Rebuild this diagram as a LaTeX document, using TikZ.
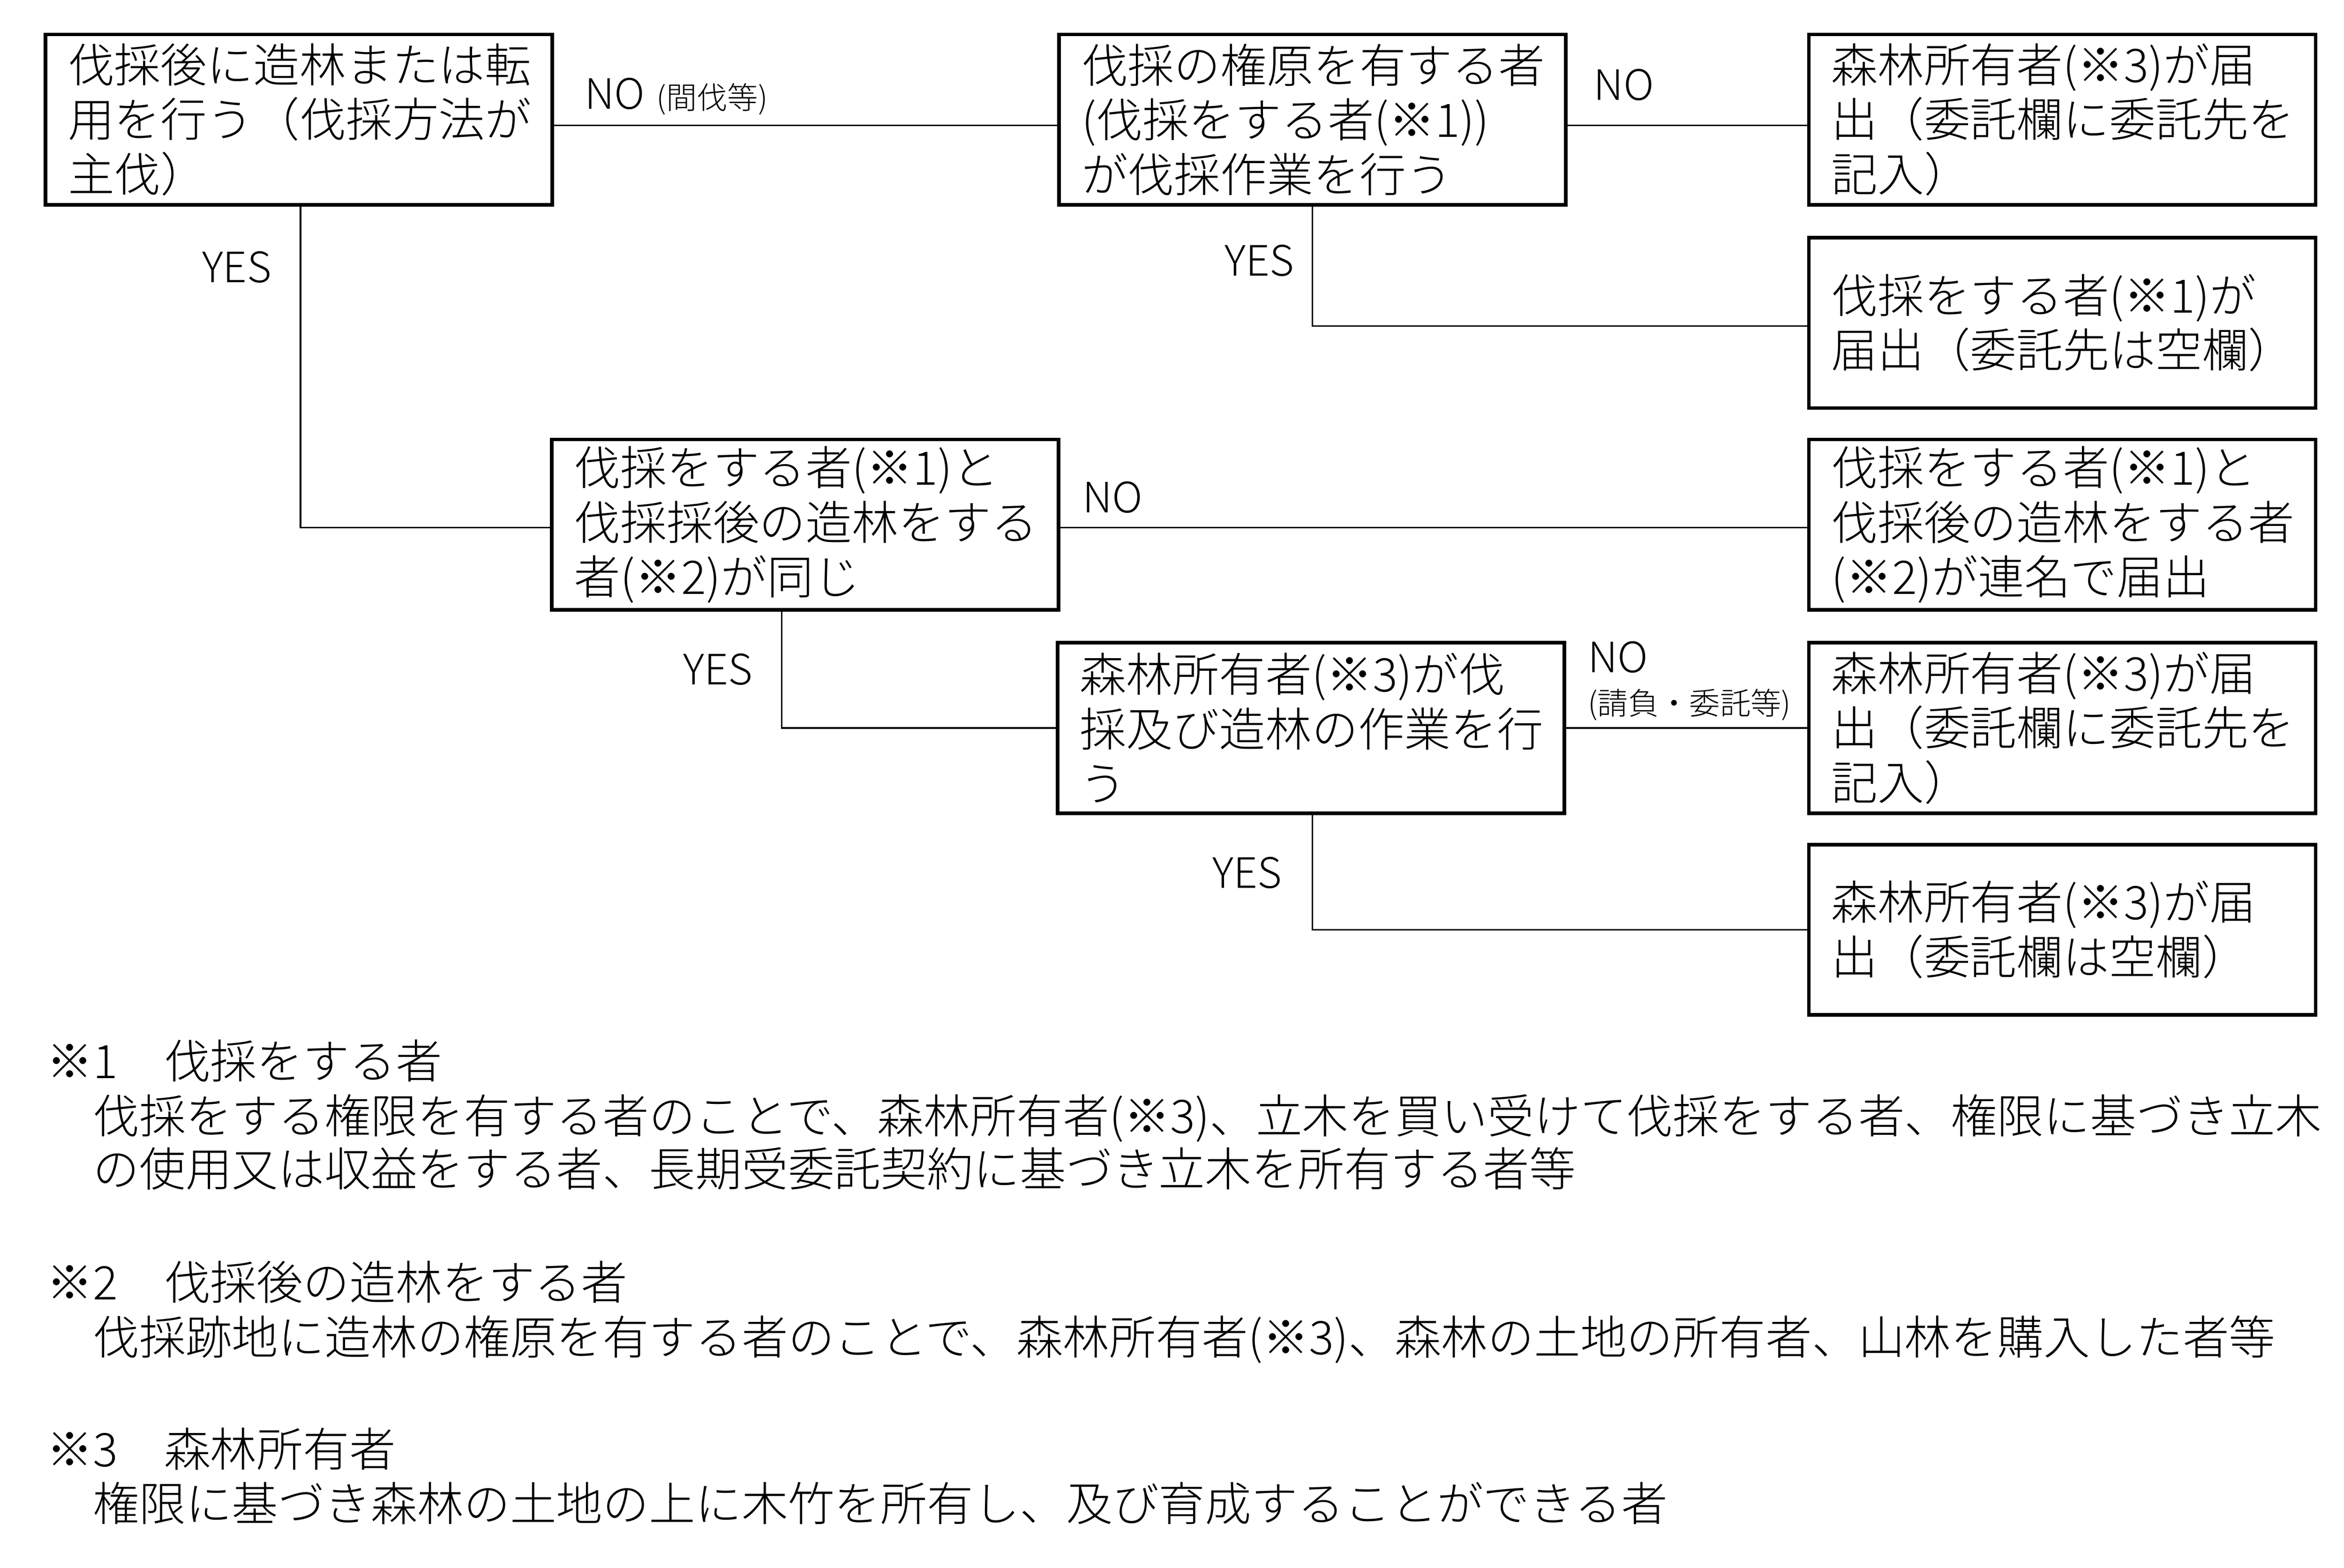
\documentclass[tikz,border=0pt]{standalone}
\usepackage{fontspec}
\setmainfont{Noto Sans CJK JP}[UprightFont=* Light]
\usetikzlibrary{calc}
\tikzset{
  box/.style={draw, line width=2.4pt, minimum width=339pt, minimum height=114pt,
    inner xsep=15pt, inner ysep=0pt, text width=309pt, align=left,
    font=\fontsize{31pt}{36.5pt}\selectfont},
  conn/.style={line width=1pt},
  lbl/.style={anchor=base west, inner sep=0pt, font=\fontsize{28pt}{32pt}\selectfont},
  small/.style={anchor=base west, inner sep=0pt, font=\fontsize{20.5pt}{24pt}\selectfont},
  note/.style={anchor=base west, inner sep=0pt, font=\fontsize{31pt}{36pt}\selectfont}
}
\begin{document}
\begin{tikzpicture}[x=1pt,y=-1pt]
\useasboundingbox (0,0) rectangle (1568,1048.9);
% boxes
\node[box] (A) at (200,80) {伐採後に造林または転\\用を行う（伐採方法が\\主伐）};
\node[box] (B) at (878,80) {伐採の権原を有する者\\(伐採をする者(※1))\\が伐採作業を行う};
\node[box] (C) at (1379.5,80) {森林所有者(※3)が届\\出（委託欄に委託先を\\記入）};
\node[box] (D) at (1379.5,216) {伐採をする者(※1)が\\届出（委託先は空欄）};
\node[box] (E) at (538.5,351) {伐採をする者(※1)と\\伐採採後の造林をする\\者(※2)が同じ};
\node[box] (F) at (1379.5,351) {伐採をする者(※1)と\\伐採後の造林をする者\\(※2)が連名で届出};
\node[box] (G) at (877,487) {森林所有者(※3)が伐\\採及び造林の作業を行\\う};
\node[box] (H) at (1379.5,487) {森林所有者(※3)が届\\出（委託欄に委託先を\\記入）};
\node[box] (I) at (1379.5,622) {森林所有者(※3)が届\\出（委託欄は空欄）};
% connectors
\draw[conn] ($(A.east)+(0,4)$) -- ($(B.west)+(0,4)$);
\draw[conn] ($(B.east)+(0,4)$) -- ($(C.west)+(0,4)$);
\draw[conn] (B.south) |- ($(D.west)+(0,2)$);
\draw[conn] ($(A.south)+(1,0)$) |- ($(E.west)+(0,2)$);
\draw[conn] ($(E.east)+(0,2)$) -- ($(F.west)+(0,2)$);
\draw[conn] ($(E.south)+(-15.5,0)$) |- (G.west);
\draw[conn] (G.east) -- (H.west);
\draw[conn] ($(G.south)+(1,0)$) |- (I.west);
% labels
\node[lbl] (l1) at (391,73) {NO};
\node[small] (l1s) at (439,73) {(間伐等)};
\node[lbl] (l2) at (1066,67) {NO};
\node[lbl] (l3) at (819,184.5) {YES};
\node[lbl] (l4) at (135,189) {YES};
\node[lbl] (l5) at (724,343) {NO};
\node[lbl] (l6) at (457,458) {YES};
\node[lbl] (l7) at (1062,450) {NO};
\node[small] (l7s) at (1062,478) {(請負・委託等)};
\node[lbl] (l8) at (811,594) {YES};
% notes
\node[note] (n1) at (31,721.5) {※1　伐採をする者};
\node[note] (n1a) at (62,758) {伐採をする権限を有する者のことで、森林所有者(※3)、立木を買い受けて伐採をする者、権限に基づき立木};
\node[note] (n1b) at (62,793.5) {の使用又は収益をする者、長期受委託契約に基づき立木を所有する者等};
\node[note] (n2) at (31,869.5) {※2　伐採後の造林をする者};
\node[note] (n2a) at (62,906) {伐採跡地に造林の権原を有する者のことで、森林所有者(※3)、森林の土地の所有者、山林を購入した者等};
\node[note] (n3) at (31,981) {※3　森林所有者};
\node[note] (n3a) at (62,1017.6) {権限に基づき森林の土地の上に木竹を所有し、及び育成することができる者};
\end{tikzpicture}
\end{document}
